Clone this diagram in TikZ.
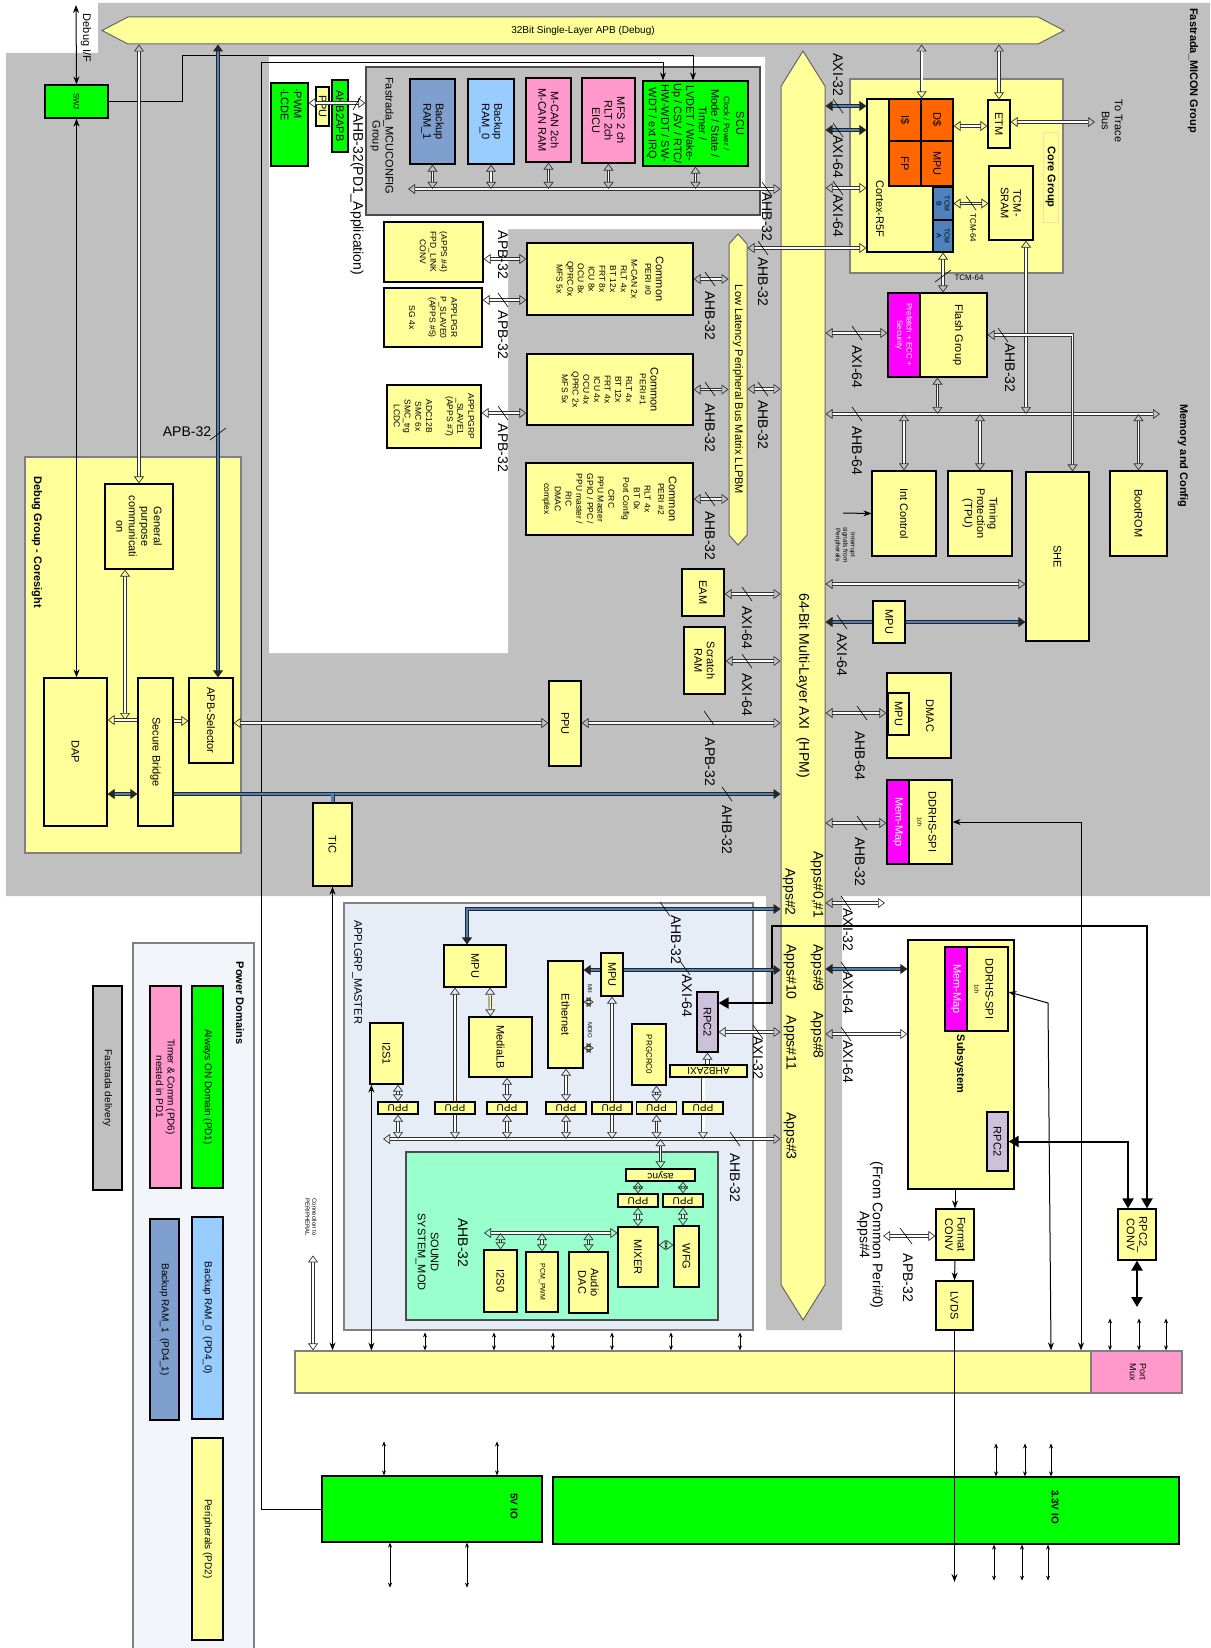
\documentclass[tikz,border=0pt]{standalone}
\usepackage{fontspec}
\setmainfont{Liberation Sans}
\usepackage{graphicx}
\usepackage{tikz}
\usetikzlibrary{shapes.arrows,positioning,calc,arrows.meta}
\definecolor{cgray}{HTML}{C0C0C0}
\definecolor{cylw}{HTML}{FFFF99}
\definecolor{cgrn}{HTML}{00FF00}
\definecolor{cpink}{HTML}{FF99CC}
\definecolor{clblue}{HTML}{99CCFF}
\definecolor{cbram}{HTML}{7F9FCF}
\definecolor{corng}{HTML}{FF6600}
\definecolor{ctcm}{HTML}{4F81BD}
\definecolor{cmag}{HTML}{FF00FF}
\definecolor{clav}{HTML}{CCC0DA}
\definecolor{capp}{HTML}{E6EDF7}
\definecolor{csnd}{HTML}{99FFCC}
\definecolor{cpwr}{HTML}{F2F5FA}
\definecolor{cbus}{HTML}{4F81BD}
\tikzset{BLOCK/.style={rectangle,draw,line width=1.2pt,fill=cylw,rotate=-90,inner sep=1pt,align=center,font=\fontsize{11}{12.5}\selectfont}}
\tikzset{FLAT/.style={rectangle,draw,line width=1.2pt,fill=cylw,inner sep=0pt,font=\fontsize{10}{11}\selectfont}}
\tikzset{GROUP/.style={rectangle,draw=black!50,line width=1.2pt,inner sep=0pt}}
\tikzset{BUS/.style={double arrow,draw=black!60,line width=1pt,fill=cylw,inner sep=1pt,double arrow head extend=0pt}}
\tikzset{LBL/.style={rotate=-90,inner sep=0pt,align=center,font=\fontsize{14}{16}\selectfont}}
\tikzset{TITLE/.style={rotate=-90,inner sep=0pt,align=center,font=\bfseries\fontsize{11}{13}\selectfont}}
\tikzset{WBUS/.style={draw=black!80,line width=0.7pt,double=white,double distance=1.8pt,>={Triangle[open,length=7pt,width=10pt]}}}
\tikzset{BBUS/.style={draw=black!85,line width=0.7pt,double=cbus,double distance=2.6pt,>={Triangle[length=7pt,width=10pt]}}}
\tikzset{YBUS/.style={WBUS,double=cylw}}
\tikzset{WIRE/.style={line width=1pt,>={Stealth[length=8pt,width=6pt]}}}
\tikzset{HEAVY/.style={line width=2pt,>={Triangle[length=10pt,width=11pt]}}}
\tikzset{PIN/.style={line width=0.8pt,>={Stealth[length=5pt,width=4pt]}}}
\tikzset{SLASH/.style={line width=0.6pt}}
\begin{document}
\begin{tikzpicture}[x=1pt,y=-1pt]
\useasboundingbox (0,0) rectangle (1210,1648);

\fill[cgray] (98,3) -- (1210,3) -- (1210,896) -- (842,896) -- (842,1330) -- (766,1330) -- (766,896) -- (6,896) -- (6,53) -- (98,53) -- cycle;
\fill[white] (269,57) -- (765,57) -- (765,229) -- (508,229) -- (508,653) -- (269,653) -- cycle;

\node[GROUP,draw=black!70,fill=cgray,minimum width=394,minimum height=148] (n_mcucfg) at (563,141) {};
\node[GROUP,fill=cylw,minimum width=213,minimum height=194] (n_coregrp) at (956.5,176) {};
\node[GROUP,fill=cylw,minimum width=216,minimum height=396] (n_dbggrp) at (133,655) {};
\node[GROUP,fill=capp,minimum width=409,minimum height=427] (n_appgrp) at (548.5,1116.5) {};
\node[GROUP,draw=black!70,fill=csnd,minimum width=312,minimum height=168] (n_sound) at (562,1236) {};
\node[GROUP,fill=cpwr,minimum width=121,minimum height=706] (n_pwrgrp) at (193.5,1296) {};

\node[BUS,minimum height=962,minimum width=27,double arrow tip angle=55,font=\fontsize{10}{12}\selectfont] (n_apb) at (583,30.5) {32Bit Single-Layer APB (Debug)};
\node[BUS,rotate=-90,minimum height=1269,minimum width=44,double arrow tip angle=64,font=\fontsize{14}{16}\selectfont] (n_axi) at (803,685.5) {64-Bit Multi-Layer AXI\ \ (HPM)};
\node[BUS,rotate=-90,minimum height=311,minimum width=18,double arrow tip angle=84,font=\fontsize{11}{13}\selectfont] (n_llp) at (738,389.5) {Low Latency Peripheral Bus Matrix LLPBM};

\node[BLOCK,fill=cgrn,minimum width=33,minimum height=63,font=\fontsize{8}{9}\selectfont] (n_swj) at (76.5,101.5) {SWJ};
\node[BLOCK,fill=cgrn,minimum width=83,minimum height=37] (n_pwm) at (289.5,124.5) {};
\node[LBL,font=\fontsize{11}{13}\selectfont,align=left,anchor=west] (t_pwm) at (291,88) {·PWM\\·LCDE};
\node[BLOCK,fill=cgrn,minimum width=72,minimum height=16,inner sep=0pt] (n_ahb2apb) at (340,116) {AHB2APB};
\node[BLOCK,minimum width=39,minimum height=13,inner sep=0pt] (n_ppuc) at (322.5,106.5) {PPU};
\node[LBL,font=\fontsize{11}{13}\selectfont,anchor=west] (t_mcucfg) at (382,77) {Fastrada\_MCUCONFIG\\Group};
\node[LBL,anchor=west] (t_pd1app) at (357,113) {AHB-32(PD1\_Application)};
\node[BLOCK,fill=cbram,minimum width=85,minimum height=45] (n_bram1) at (432.5,121.5) {Backup\\RAM\_1};
\node[BLOCK,fill=clblue,minimum width=85,minimum height=46] (n_bram0) at (491,121.5) {Backup\\RAM\_0};
\node[BLOCK,fill=cpink,minimum width=84,minimum height=45] (n_mcan) at (548.5,120) {M-CAN 2ch\\M-CAN RAM};
\node[BLOCK,fill=cpink,minimum width=85,minimum height=53] (n_mfs) at (608.5,120.5) {MFS 2 ch\\RLT 2ch\\EICU};
\node[BLOCK,fill=cgrn,minimum width=85,minimum height=105] (n_scu) at (695.5,123.5) {SCU\\ \fontsize{8}{9.5}\selectfont Clock / Power /\\Mode / State /\\Timer /\\LVDET / Wake-\\Up / CSV / RTC/\\HW-WDT / SW-\\WDT / ext IRQ};

\node[TITLE,draw=orange!30,line width=0.8pt,minimum width=90,minimum height=15] (t_coregrp) at (1050.5,177) {Core Group};
\node[BLOCK,minimum width=153,minimum height=86] (n_cortex) at (910,175.5) {};
\node[LBL,font=\fontsize{11}{13}\selectfont] (t_cortex) at (880,209) {Cortex-R5F};
\node[BLOCK,fill=corng,minimum width=42,minimum height=32] (n_icache) at (905,120) {I\$};
\node[BLOCK,fill=corng,minimum width=42,minimum height=32] (n_dcache) at (937,120) {D\$};
\node[BLOCK,fill=corng,minimum width=45,minimum height=32] (n_fp) at (905,163.5) {FP};
\node[BLOCK,fill=corng,minimum width=45,minimum height=32] (n_mpuc) at (937,163.5) {MPU};
\node[BLOCK,fill=ctcm,minimum width=33,minimum height=20,font=\fontsize{7}{8}\selectfont] (n_tcmb) at (943,203.5) {TCM\\B};
\node[BLOCK,fill=ctcm,minimum width=32,minimum height=20,font=\fontsize{7}{8}\selectfont] (n_tcma) at (943,236) {TCM\\A};
\node[BLOCK,minimum width=48,minimum height=22] (n_etm) at (999,124) {ETM};
\node[BLOCK,minimum width=74,minimum height=44] (n_tcmsram) at (1011,203) {TCM-\\SRAM};
\node[LBL,font=\fontsize{11}{13}\selectfont] (t_trace) at (1112,121) {To Trace\\Bus};
\node[TITLE,anchor=west] (t_micon) at (1193,8) {Fastrada\_MICON Group};
\node[TITLE] (t_memcfg) at (1183,456) {Memory and Config};

\node[BLOCK,minimum width=72,minimum height=166,font=\fontsize{8.5}{10.7}\selectfont] (n_peri0) at (610,279) {\fontsize{11}{13}\selectfont Common\\PERI \#0\\[3pt] \fontsize{8.5}{10.7}\selectfont M-CAN 2x\\RLT 4x\\BT 12x\\FRT 8x\\ICU 8x\\OCU 8x\\QPRC 0x\\MFS 5x};
\node[BLOCK,minimum width=71,minimum height=166,font=\fontsize{8.5}{10.7}\selectfont] (n_peri1) at (610,389.5) {\fontsize{11}{13}\selectfont Common\\PERI \#1\\[3pt] \fontsize{8.5}{10.7}\selectfont RLT 4x\\BT 12x\\FRT 4x\\ICU 4x\\OCU 4x\\QPRC 2x\\MFS 5x};
\node[BLOCK,minimum width=72,minimum height=167,font=\fontsize{8.5}{10.7}\selectfont] (n_peri2) at (609.5,499) {\fontsize{11}{13}\selectfont Common\\PERI \#2\\[3pt] \fontsize{8.5}{10.7}\selectfont RLT 4x\\BT 0x\\Port Config\\[4pt]CRC\\PPU Master\\GPIO / PPC /\\PPU master /\\RIC\\DMAC\\complex};
\node[BLOCK,minimum width=60,minimum height=99,font=\fontsize{8.5}{10.7}\selectfont] (n_fpd) at (433.5,252) {(APPS \#4)\\FPD\_LINK\\CONV};
\node[BLOCK,minimum width=59,minimum height=98,font=\fontsize{8.5}{10.7}\selectfont] (n_slave0) at (433,317.5) {APPLPGR\\P\_SLAVE0\\(APPS \#5)\\[10pt]SG 4x};
\node[BLOCK,minimum width=63,minimum height=94,font=\fontsize{8.5}{10.7}\selectfont] (n_slave1) at (434,416.5) {APPLPGRP\\\_SLAVE1\\(APPS \#7)\\[10pt]ADC12B\\SMC 6x\\SMC\_trg\\LCDC};

\node[BLOCK,minimum width=84,minimum height=99] (n_flash) at (937.5,335) {};
\node[BLOCK,fill=cmag,text=white,minimum width=84,minimum height=32,font=\fontsize{8}{9.5}\selectfont] (n_flashsec) at (904,335) {Prefetch + ECC +\\Security};
\node[LBL,font=\fontsize{11}{13}\selectfont] (t_flash) at (958,335) {Flash Group};
\node[BLOCK,minimum width=85,minimum height=64] (n_intc) at (904,513.5) {Int Control};
\node[BLOCK,minimum width=85,minimum height=64] (n_tpu) at (980,513.5) {Timing\\Protection\\(TPU)};
\node[BLOCK,minimum width=169,minimum height=63] (n_she) at (1057.5,556.5) {SHE};
\node[BLOCK,minimum width=85,minimum height=57] (n_bootrom) at (1138.5,513.5) {BootROM};
\node[LBL,font=\fontsize{6.5}{7.5}\selectfont] (t_irq) at (845,545) {Interrupt\\signals from\\Peripherals};
\node[BLOCK,minimum width=42,minimum height=32] (n_mpur) at (889,622) {MPU};
\node[BLOCK,minimum width=85,minimum height=64] (n_dmac) at (919,715.5) {};
\node[BLOCK,minimum width=42,minimum height=21] (n_dmacmpu) at (898.5,714) {MPU};
\node[LBL,font=\fontsize{11}{13}\selectfont] (t_dmac) at (930,716) {DMAC};
\node[BLOCK,minimum width=84,minimum height=65] (n_ddr1) at (919.5,822) {};
\node[BLOCK,fill=cmag,text=white,minimum width=84,minimum height=22] (n_ddr1map) at (898,822) {Mem-Map};
\node[LBL,font=\fontsize{11}{11}\selectfont] (t_ddr1) at (927,822) {DDRHS-SPI\\{\fontsize{6}{6}\selectfont 1ch}};

\node[BLOCK,minimum width=85,minimum height=68] (n_gp) at (139,526.5) {General\\purpose\\communicati\\on};
\node[BLOCK,minimum width=148,minimum height=63] (n_dap) at (75.5,752) {DAP};
\node[BLOCK,minimum width=148,minimum height=35] (n_sb) at (155.5,752) {Secure Bridge};
\node[BLOCK,minimum width=85,minimum height=44] (n_apbsel) at (211,720.5) {APB-Selector};
\node[TITLE] (t_dbggrp) at (37,542) {Debug Group - Coresight};
\node[BLOCK,minimum width=83,minimum height=39] (n_tic) at (332.5,844.5) {TIC};
\node[BLOCK,minimum width=85,minimum height=32] (n_ppum) at (565,723.5) {PPU};
\node[BLOCK,minimum width=47,minimum height=42] (n_eam) at (703,592.5) {EAM};
\node[BLOCK,minimum width=67,minimum height=41] (n_scratch) at (704.5,660.5) {Scratch\\RAM};

\node[LBL] (t_apps01) at (817,885) {Apps\#0,\#1};
\node[LBL] (t_apps2) at (789,892) {Apps\#2};
\node[LBL] (t_apps9) at (817,968) {Apps\#9};
\node[LBL] (t_apps8) at (817,1035) {Apps\#8};
\node[LBL] (t_apps10) at (790,972) {Apps\#10};
\node[LBL] (t_apps11) at (790,1043) {Apps\#11};
\node[LBL] (t_apps3) at (790,1136) {Apps\#3};

\node[BLOCK,minimum width=249,minimum height=106] (n_subsys) at (961,1064.5) {};
\node[BLOCK,minimum width=84,minimum height=63] (n_ddr2) at (976.5,989) {};
\node[BLOCK,fill=cmag,text=white,minimum width=84,minimum height=22] (n_ddr2map) at (956,989) {Mem-Map};
\node[LBL,font=\fontsize{11}{11}\selectfont] (t_ddr2) at (984,989) {DDRHS-SPI\\{\fontsize{6}{6}\selectfont 1ch}};
\node[TITLE] (t_subsys) at (960,1064) {Subsystem};
\node[BLOCK,fill=clav,minimum width=59,minimum height=21] (n_rpc2s) at (997.5,1141.5) {RPC2};
\node[BLOCK,minimum width=51,minimum height=38] (n_rpc2conv) at (1137,1234.5) {RPC2\_\\CONV};
\node[BLOCK,minimum width=51,minimum height=38] (n_fmt) at (955,1234.5) {Format\\CONV};
\node[BLOCK,minimum width=49,minimum height=37] (n_lvds) at (954.5,1305.5) {LVDS};
\node[LBL,font=\fontsize{14}{13}\selectfont] (t_from) at (870,1235) {(From Common Peri\#0)\\Apps\#4};

\node[LBL,font=\fontsize{11}{13}\selectfont] (t_appgrp) at (357,972) {APPLGRP\_MASTER};
\node[BLOCK,minimum width=42,minimum height=62] (n_mpua) at (475,966) {MPU};
\node[BLOCK,minimum width=60,minimum height=63] (n_medialb) at (500.5,1047) {MediaLB};
\node[BLOCK,minimum width=107,minimum height=35] (n_eth) at (565.5,1014.5) {Ethernet};
\node[BLOCK,minimum width=43,minimum height=22] (n_mpub) at (612,974.5) {MPU};
\node[BLOCK,fill=clav,minimum width=60,minimum height=21] (n_rpc2a) at (707.5,1022) {RPC2};
\node[FLAT,minimum width=77,minimum height=12] (n_ahb2axi) at (708.5,1071) {\rotatebox{180}{AHB2AXI}};
\node[BLOCK,minimum width=61,minimum height=34,font=\fontsize{8}{9}\selectfont] (n_prgcrc) at (649,1054.5) {PRGCRC0};
\node[BLOCK,minimum width=61,minimum height=33] (n_i2s1) at (386.5,1053.5) {I2S1};
\node[FLAT,minimum width=40,minimum height=12] (n_ppu1) at (398,1108) {\rotatebox{180}{PPU}};
\node[FLAT,minimum width=40,minimum height=12] (n_ppu2) at (455,1108) {\rotatebox{180}{PPU}};
\node[FLAT,minimum width=40,minimum height=12] (n_ppu3) at (507,1108) {\rotatebox{180}{PPU}};
\node[FLAT,minimum width=40,minimum height=12] (n_ppu4) at (566,1108) {\rotatebox{180}{PPU}};
\node[FLAT,minimum width=40,minimum height=12] (n_ppu5) at (612,1108) {\rotatebox{180}{PPU}};
\node[FLAT,minimum width=40,minimum height=12] (n_ppu6) at (656.5,1108) {\rotatebox{180}{PPU}};
\node[FLAT,minimum width=40,minimum height=12] (n_ppu7) at (703,1108) {\rotatebox{180}{PPU}};
\node[LBL,font=\fontsize{11}{13}\selectfont] (t_sound) at (427,1252) {SOUND\\SYSTEM\_MOD};
\node[LBL] (t_sndahb) at (463,1243) {AHB-32};
\node[FLAT,minimum width=69,minimum height=12] (n_async) at (660.5,1175) {\rotatebox{180}{async}};
\node[FLAT,minimum width=40,minimum height=13] (n_ppus1) at (638,1200.5) {\rotatebox{180}{PPU}};
\node[FLAT,minimum width=40,minimum height=13] (n_ppus2) at (683,1200.5) {\rotatebox{180}{PPU}};
\node[BLOCK,minimum width=60,minimum height=40] (n_mixer) at (638,1257) {MIXER};
\node[BLOCK,minimum width=61,minimum height=25] (n_wfg) at (686.5,1256.5) {WFG};
\node[BLOCK,minimum width=62,minimum height=33] (n_i2s0) at (500.5,1281) {I2S0};
\node[BLOCK,minimum width=60,minimum height=32,font=\fontsize{7}{8}\selectfont] (n_pcm) at (542,1282) {PCM\_PWM};
\node[BLOCK,minimum width=61,minimum height=39] (n_dac) at (588.5,1282.5) {Audio\\DAC};

\node[FLAT,draw=black!50,minimum width=796,minimum height=42] (n_periph) at (693,1372) {};
\node[FLAT,draw=black!50,fill=cpink,minimum width=91,minimum height=42] (n_portmux) at (1136.5,1372) {};
\node[LBL,font=\fontsize{9}{10}\selectfont] (t_portmux) at (1138,1372) {Port\\Mux};
\node[FLAT,fill=cgrn,minimum width=220,minimum height=66] (n_io5) at (432,1509) {};
\node[FLAT,fill=cgrn,minimum width=626,minimum height=67] (n_io33) at (866,1510.5) {};
\node[TITLE,font=\bfseries\fontsize{10}{12}\selectfont] (t_io5) at (514,1506) {5V IO};
\node[TITLE,font=\bfseries\fontsize{10}{12}\selectfont] (t_io33) at (1055,1507) {3.3V IO};
\node[LBL,font=\fontsize{6}{7}\selectfont] (t_conn) at (311,1217) {Connection to\\PERIPHERAL};

\node[TITLE] (t_pwrgrp) at (240,1003) {Power Domains};
\node[BLOCK,fill=cgrn,minimum width=202,minimum height=31,font=\fontsize{10}{11.5}\selectfont] (n_pdon) at (207.5,1087) {Always ON Domain (PD1)};
\node[BLOCK,fill=cpink,minimum width=202,minimum height=31,font=\fontsize{10}{11.5}\selectfont] (n_pdtimer) at (165.5,1087) {Timer \& Comm (PD6)\\nested in PD1};
\node[BLOCK,fill=cgray,minimum width=204,minimum height=29,font=\fontsize{10}{11.5}\selectfont] (n_pddeliv) at (107.5,1088) {Fastrada delivery};
\node[BLOCK,fill=clblue,minimum width=202,minimum height=31,font=\fontsize{10}{11.5}\selectfont] (n_pdbram0) at (207.5,1318) {Backup RAM\_0\ \ (PD4\_0)};
\node[BLOCK,fill=cbram,minimum width=201,minimum height=29,font=\fontsize{10}{11.5}\selectfont] (n_pdbram1) at (164.5,1319.5) {Backup RAM\_1\ \ (PD4\_1)};
\node[BLOCK,minimum width=202,minimum height=31,font=\fontsize{10}{11.5}\selectfont] (n_pdperi) at (207.5,1539) {Peripherals (PD2)};

\coordinate (c_dbgif) at (76,5);
\draw[WIRE,<->] (n_swj.west) -- (c_dbgif);
\node[LBL,font=\fontsize{11}{13}\selectfont] (t_dbgif) at (86,38) {Debug I/F};
\draw[WIRE,<->] (n_swj.east) -- (n_swj.east |- n_dap.west);
\coordinate (c_swjbend) at (182,56);
\draw[WIRE,->] (n_swj.north) -| (c_swjbend) -| ($(n_scu.west)+(-2.5,0)$);
\coordinate (c_iobend) at (261,63);
\draw[WIRE,->] (n_io5.west) -| (c_iobend) -| ($(n_scu.west)+(-32.5,0)$);

\draw[WBUS,<->] (n_pwm.north |- 0,103) -- (n_mcucfg.west |- 0,103);
\draw[SLASH] (357,103) +(-4,7) -- +(4,-7);
\coordinate (c_mcubus) at (408,189);
\draw[WBUS,<->] (c_mcubus) -- (n_axi.south |- c_mcubus);
\draw[WBUS,<->] (n_bram1.east) -- (n_bram1.east |- c_mcubus);
\draw[WBUS,<->] (n_bram0.east) -- (n_bram0.east |- c_mcubus);
\draw[WBUS,<->] (n_mcan.east) -- (n_mcan.east |- c_mcubus);
\draw[WBUS,<->] (n_mfs.east) -- (n_mfs.east |- c_mcubus);
\draw[WBUS,<->] (n_scu.east) -- (n_scu.east |- c_mcubus);
\draw[SLASH] (767,189) +(-5,-7) -- +(5,7);
\node[LBL] (t_mcubus) at (767,217) {AHB-32};

\draw[WBUS,<->] (n_apb.south -| n_gp.west) -- (n_gp.west);
\coordinate (c_selin) at ($(n_apbsel.west)+(7,0)$);
\draw[BBUS,<->] (n_apb.south -| c_selin) -- (c_selin);
\node[font=\fontsize{14}{16}\selectfont,inner sep=0pt] (t_apbsel) at (187,432) {APB-32};
\draw[SLASH] (218,434) +(-8,6) -- +(8,-6);
\coordinate (c_gpout) at ($(n_gp.east)+(-14,0)$);
\draw[WBUS,<->] (c_gpout) -- (c_gpout |- 0,720);
\draw[WBUS,<-] (n_dap.north |- 0,720) -- (n_sb.south |- 0,720);
\draw[WBUS,->] (n_sb.north |- 0,721) -- (n_apbsel.south |- 0,721);
\draw[WBUS,<->] (n_apbsel.north |- 0,723) -- (n_ppum.south |- 0,723);
\draw[WBUS,<->] (n_ppum.north |- 0,723) -- (n_axi.south |- 0,723);
\draw[SLASH] (709,718) +(-5,-7) -- +(5,7);
\node[LBL] (t_apbppu) at (710,762) {APB-32};
\draw[BBUS,<->] (n_dap.north |- 0,794) -- (n_sb.south |- 0,794);
\draw[BBUS,->] (n_sb.north |- 0,794) -- (n_axi.south |- 0,794);
\draw[BBUS] (n_tic.west |- 0,794) -- (n_tic.west);
\draw[SLASH] (727,794) +(-5,-7) -- +(5,7);
\node[LBL] (t_ahbsb) at (727,830) {AHB-32};
\draw[WBUS,<->] (n_eam.north |- 0,594) -- (n_axi.south |- 0,594);
\draw[SLASH] (747,594) +(-5,-7) -- +(5,7);
\node[LBL] (t_axieam) at (747,628) {AXI-64};
\draw[WBUS,<->] (n_scratch.north |- 0,661) -- (n_axi.south |- 0,661);
\draw[SLASH] (747,661) +(-5,-7) -- +(5,7);
\node[LBL] (t_axiscr) at (747,695) {AXI-64};

\draw[WBUS,<->] (n_apb.south -| n_icache.north west) -- (n_icache.north west);
\draw[WBUS,<->] (n_apb.south -| n_etm.west) -- (n_etm.west);
\draw[WBUS,<->] (n_dcache.north |- 0,126) -- (n_etm.south |- 0,126);
\coordinate (c_trace) at (1095,122);
\draw[WBUS,<->] (n_etm.north |- c_trace) -- (c_trace);
\draw[WBUS,<->] (n_tcmb.north) -- (n_tcmsram.south |- n_tcmb.north);
\draw[SLASH] (971,203) +(-5,-7) -- +(5,7);
\node[LBL,font=\fontsize{8}{9}\selectfont] (t_tcm1) at (973,228) {TCM-64};
\draw[WBUS,<->] (n_tcma.east) -- (n_tcma.east |- n_flash.west);
\draw[SLASH] (943,276) +(-8,6) -- +(8,-6);
\node[font=\fontsize{8}{9}\selectfont,inner sep=0pt] (t_tcm2) at (969,278) {TCM-64};
\draw[BBUS,<->] (n_axi.north |- 0,106) -- (n_cortex.south |- 0,106);
\draw[BBUS,<->] (n_axi.north |- 0,130) -- (n_cortex.south |- 0,130);
\draw[WBUS,<->] (n_axi.north |- 0,188) -- (n_cortex.south |- 0,188);
\draw[WBUS,<->] (n_llp.north |- 0,248) -- (n_cortex.south |- 0,248);
\draw[SLASH] (838,106) +(-5,-7) -- +(5,7);
\draw[SLASH] (838,130) +(-5,-7) -- +(5,7);
\draw[SLASH] (838,188) +(-5,-7) -- +(5,7);
\draw[SLASH] (763,248) +(-5,-7) -- +(5,7);
\node[LBL] (t_axic1) at (838,75) {AXI-32};
\node[LBL] (t_axic2) at (838,157) {AXI-64};
\node[LBL] (t_axic3) at (838,216) {AXI-64};
\node[LBL] (t_ahbcor) at (763,282) {AHB-32};

\draw[WBUS,<->] (n_peri0.north) -- (n_llp.south |- n_peri0.north);
\draw[WBUS,<->] (n_peri1.north) -- (n_llp.south |- n_peri1.north);
\draw[WBUS,<->] (n_peri2.north) -- (n_llp.south |- n_peri2.north);
\draw[SLASH] (710,279) +(-5,-7) -- +(5,7);
\draw[SLASH] (710,389) +(-5,-7) -- +(5,7);
\draw[SLASH] (710,499) +(-5,-7) -- +(5,7);
\node[LBL] (t_ahbp0) at (710,316) {AHB-32};
\node[LBL] (t_ahbp1) at (710,428) {AHB-32};
\node[LBL] (t_ahbp2) at (710,536) {AHB-32};
\draw[WBUS,<->] (n_llp.north |- 0,389) -- (n_axi.south |- 0,389);
\draw[SLASH] (763,389) +(-5,-7) -- +(5,7);
\node[LBL] (t_ahbllp) at (763,425) {AHB-32};
\draw[WBUS,<->] (n_fpd.north |- 0,259) -- (n_peri0.south |- 0,259);
\draw[WBUS,<->] (n_slave0.north |- 0,300) -- (n_peri0.south |- 0,300);
\draw[WBUS,<->] (n_slave1.north |- 0,413) -- (n_peri1.south |- 0,413);
\draw[SLASH] (503,300) +(-5,-7) -- +(5,7);
\draw[SLASH] (503,413) +(-5,-7) -- +(5,7);
\node[LBL] (t_apbfpd) at (503,255) {APB-32};
\node[LBL] (t_apbs0) at (503,335) {APB-32};
\node[LBL] (t_apbs1) at (503,448) {APB-32};

\coordinate (c_ahb64) at (1160,414);
\draw[WBUS,<->] (n_axi.north |- c_ahb64) -- (c_ahb64);
\draw[WBUS,<->] (n_axi.north |- 0,333) -- (n_flash.south |- 0,333);
\draw[WBUS,<->] (n_flash.east) -- (n_flash.east |- c_ahb64);
\draw[WBUS,<->] (n_intc.west |- c_ahb64) -- (n_intc.west);
\draw[WBUS,<->] (n_tpu.west |- c_ahb64) -- (n_tpu.west);
\draw[WBUS,<->] (n_bootrom.west |- c_ahb64) -- (n_bootrom.west);
\coordinate (c_sramout) at ($(n_tcmsram.east)+(15,0)$);
\draw[WBUS,<->] (c_sramout) -- (c_sramout |- c_ahb64);
\coordinate (c_shein) at ($(n_she.west)+(15,0)$);
\draw[WBUS,<->] (n_flash.north) -| (c_shein);
\draw[SLASH] (857,333) +(-5,-7) -- +(5,7);
\draw[SLASH] (857,414) +(-5,-7) -- +(5,7);
\draw[SLASH] (1003,335) +(-5,-7) -- +(5,7);
\node[LBL] (t_axiflash) at (857,367) {AXI-64};
\node[LBL] (t_ahb64) at (857,451) {AHB-64};
\node[LBL] (t_ahbshe) at (1010,368) {AHB-32};
\coordinate (c_irq) at (843,513);
\draw[WIRE,->] (c_irq) -- (n_intc.south);
\draw[WBUS,<->] (n_axi.north |- 0,584) -- (n_she.south |- 0,584);
\draw[BBUS,<-] (n_axi.north |- n_mpur) -- (n_mpur.south);
\draw[BBUS,->] (n_mpur.north) -- (n_she.south |- n_mpur);
\draw[SLASH] (842,622) +(-5,-7) -- +(5,7);
\node[LBL] (t_axImpu) at (842,655) {AXI-64};
\draw[WBUS,<->] (n_axi.north |- 0,713) -- (n_dmac.south |- 0,713);
\draw[SLASH] (862,713) +(-5,-7) -- +(5,7);
\node[LBL] (t_ahbdmac) at (860,756) {AHB-64};
\draw[WBUS,<->] (n_axi.north |- 0,823) -- (n_ddr1.south |- 0,823);
\draw[SLASH] (862,823) +(-5,-7) -- +(5,7);
\node[LBL] (t_ahbddr) at (860,862) {AHB-32};
\draw[WIRE,<->] (n_ddr1.north) -| (n_periph.north -| 1081,0);

\coordinate (c_apps01) at (885,903);
\draw[WBUS,<->] (n_axi.north |- c_apps01) -- (c_apps01);
\draw[SLASH] (846,903) +(-5,-7) -- +(5,7);
\node[LBL] (t_axi01) at (848,930) {AXI-32};
\draw[BBUS,<->] (n_axi.north |- 0,969) -- (n_subsys.south |- 0,969);
\draw[WBUS,<->] (n_axi.north |- 0,1034) -- (n_subsys.south |- 0,1034);
\draw[SLASH] (846,969) +(-5,-7) -- +(5,7);
\draw[SLASH] (846,1034) +(-5,-7) -- +(5,7);
\node[LBL] (t_axis1) at (848,993) {AXI-64};
\node[LBL] (t_axis2) at (848,1062) {AXI-64};
\coordinate (c_ddrbend) at (1048,1003);
\draw[WIRE,<->] (n_periph.north -| 1051,0) -- (c_ddrbend) -- (n_ddr2.north |- 0,992);
\coordinate (c_rpcl) at ($(n_rpc2conv.west)+(-9,0)$);
\coordinate (c_rpcr) at ($(n_rpc2conv.west)+(10,0)$);
\draw[HEAVY,<->] (n_rpc2s.north) -| (c_rpcl);
\coordinate (c_rpcbend) at (772,926);
\draw[HEAVY,<->] (n_rpc2a.north |- 0,1003) -| (c_rpcbend) -| (c_rpcr);
\coordinate (c_rpcpin) at (1137,1307);
\draw[HEAVY,<->,line width=2.4pt] (n_rpc2conv.east) -- (c_rpcpin);
\draw[PIN,<->] (n_portmux.north -| 1110,0) -- ++(0,-32);
\draw[PIN,<->] (n_portmux.north -| 1139,0) -- ++(0,-32);
\draw[PIN,<->] (n_portmux.north -| 1166,0) -- ++(0,-32);
\draw[WIRE,->] (n_fmt.west |- n_subsys.east) -- (n_fmt.west);
\draw[WIRE,->] (n_fmt.east) -- (n_lvds.west);
\coordinate (c_apps4) at (883,1236);
\draw[WBUS,<->] (c_apps4) -- (n_fmt.south |- c_apps4);
\draw[SLASH] (906,1236) +(-6,-8) -- +(6,8);
\node[LBL] (t_apbfmt) at (908,1278) {APB-32};

\coordinate (c_mpuain) at ($(n_mpua.west)+(-8,0)$);
\draw[BBUS,<->] (n_axi.south |- 0,909) -| (c_mpuain);
\draw[SLASH] (665,909) +(-5,-7) -- +(5,7);
\node[LBL] (t_ahbapp) at (676,940) {AHB-32};
\draw[BBUS,<->] (n_axi.south |- 0,970) -- (n_eth.north |- 0,970);
\draw[SLASH] (685,968) +(-5,-7) -- +(5,7);
\node[LBL] (t_axieth) at (687,996) {AXI-64};
\node[BLOCK,minimum width=43,minimum height=22] (n_mpub2) at (n_mpub) {MPU};
\draw[YBUS,<->] ($(n_mpua.east)+(15,0)$) -- ($(n_medialb.west)+(-10,0)$);
\draw[YBUS,<->] (n_eth.north |- 0,1002) -- ++(10,0);
\draw[YBUS,<->] (n_eth.north |- 0,1048) -- ++(10,0);
\node[LBL,font=\fontsize{6}{7}\selectfont] (t_mii) at (590,989) {MII};
\node[LBL,font=\fontsize{6}{7}\selectfont] (t_mdio) at (590,1030) {MDIO};
\draw[WBUS,<->] (n_rpc2a.north |- 0,1032) -- (n_axi.south |- 0,1032);
\draw[SLASH] (758,1032) +(-5,-7) -- +(5,7);
\node[LBL] (t_axirpc) at (758,1058) {AXI-32};
\coordinate (c_appbus) at (383,1139);
\draw[WBUS,<->] (c_appbus) -- (n_axi.south |- c_appbus);
\draw[SLASH] (735,1139) +(-5,-7) -- +(5,7);
\node[LBL] (t_ahbbus) at (735,1178) {AHB-32};
\draw[WBUS,<->] (n_ppu1.north |- n_i2s1.east) -- (n_ppu1.north);
\draw[WBUS,<->] (n_ppu1.south) -- (n_ppu1.south |- c_appbus);
\draw[WBUS,<-] (n_ppu2.north |- n_mpua.east) -- (n_ppu2.north);
\draw[WBUS,->] (n_ppu2.south) -- (n_ppu2.south |- c_appbus);
\draw[WBUS,<->] (n_ppu3.north |- n_medialb.east) -- (n_ppu3.north);
\draw[WBUS,<->] (n_ppu3.south) -- (n_ppu3.south |- c_appbus);
\draw[WBUS,<->] (n_ppu4.north |- n_eth.east) -- (n_ppu4.north);
\draw[WBUS,<->] (n_ppu4.south) -- (n_ppu4.south |- c_appbus);
\draw[WBUS,<-] (n_ppu5.north |- n_mpub.east) -- (n_ppu5.north);
\draw[WBUS,->] (n_ppu5.south) -- (n_ppu5.south |- c_appbus);
\draw[WBUS,<->] (n_ppu6.north |- n_prgcrc.east) -- (n_ppu6.north);
\draw[WBUS,<->] (n_ppu6.south) -- (n_ppu6.south |- c_appbus);
\draw[WBUS,double distance=3pt,<-] (n_rpc2a.east) -- (n_ahb2axi.north -| n_rpc2a.east);
\draw[WBUS,double distance=3pt] (n_ahb2axi.south -| n_ppu7.north) -- (n_ppu7.north);
\draw[WBUS,double distance=3pt,->] (n_ppu7.south) -- (n_ppu7.south |- c_appbus);

\draw[WBUS,<->] (n_async.north |- c_appbus) -- (n_async.north);
\draw[WBUS,<->] (n_ppus1.north |- n_async.south) -- (n_ppus1.north);
\draw[WBUS,<->] (n_ppus1.south) -- (n_ppus1.south |- n_mixer.west);
\draw[WBUS,<->] (n_ppus2.north |- n_async.south) -- (n_ppus2.north);
\draw[WBUS,<->] (n_ppus2.south) -- (n_ppus2.south |- n_wfg.west);
\draw[WBUS,<->] (n_mixer.north |- 0,1245) -- (n_wfg.south |- 0,1245);
\coordinate (c_sndbus) at (484,1233);
\draw[WBUS,<->] (c_sndbus) -- (n_mixer.south |- c_sndbus);
\draw[WBUS,<->] (n_i2s0.west |- c_sndbus) -- (n_i2s0.west);
\draw[WBUS,<->] (n_pcm.west |- c_sndbus) -- (n_pcm.west);
\draw[WBUS,<->] (n_dac.west |- c_sndbus) -- (n_dac.west);

\draw[WBUS,<->] (n_periph.north -| 313,0) -- ++(0,-95);
\draw[WIRE,<->] (n_tic.east) -- (n_tic.east |- n_periph.north);
\draw[WIRE,<->] ($(n_i2s1.south east)+(2,0)$) -- ++(0,266);
\draw[PIN,<->] (n_periph.north -| 425,0) -- ++(0,-18);
\draw[PIN,<->] (n_periph.north -| 494,0) -- ++(0,-18);
\draw[PIN,<->] (n_periph.north -| 553,0) -- ++(0,-18);
\draw[PIN,<->] (n_periph.north -| 612,0) -- ++(0,-18);
\draw[PIN,<->] (n_periph.north -| 671,0) -- ++(0,-18);
\draw[PIN,<->] (n_periph.north -| 740,0) -- ++(0,-18);
\draw[PIN,<->] (n_io5.north -| 384,0) -- ++(0,-34);
\draw[PIN,<->] (n_io5.north -| 497,0) -- ++(0,-34);
\draw[PIN,<->] (n_io5.south -| 390,0) -- ++(0,45);
\draw[PIN,<->] (n_io5.south -| 467,0) -- ++(0,45);
\draw[PIN,<->] (n_io33.north -| 996,0) -- ++(0,-33);
\draw[PIN,<->] (n_io33.north -| 1025,0) -- ++(0,-33);
\draw[PIN,<->] (n_io33.north -| 1051,0) -- ++(0,-33);
\draw[PIN,<->] (n_io33.south -| 994,0) -- ++(0,36);
\draw[PIN,<->] (n_io33.south -| 1022,0) -- ++(0,36);
\draw[PIN,<->] (n_io33.south -| 1048,0) -- ++(0,36);
\coordinate (c_lvdsout) at (954.5,1582);
\draw[WIRE,->] (n_lvds.east) -- (c_lvdsout);

\end{tikzpicture}
\end{document}
